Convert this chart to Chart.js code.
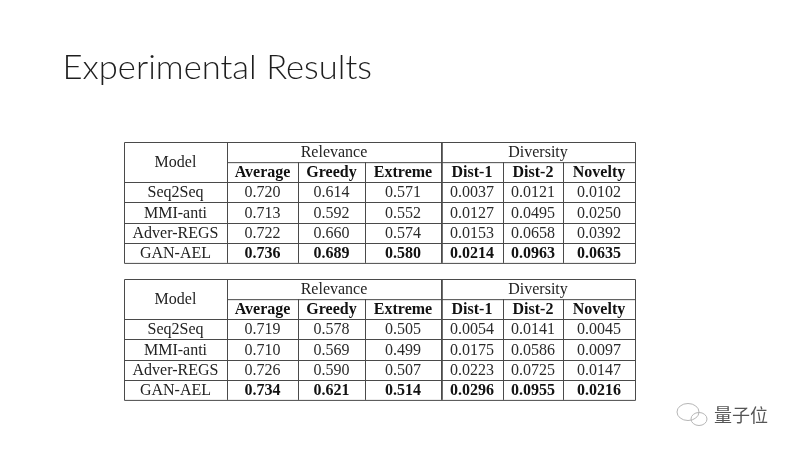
<!DOCTYPE html>
<html>
<head>
<meta charset="utf-8">
<script src="https://cdn.jsdelivr.net/npm/chart.js@4.4.1/dist/chart.umd.min.js"></script>
<style>
  html, body { margin: 0; padding: 0; background: #fff; }
  #wrap { width: 800px; height: 450px; }
</style>
</head>
<body>
<div id="wrap"><canvas id="slide" width="800" height="450"></canvas></div>
<script>
// --- datos de la tabla ---
const title = 'Experimental Results';
const groups = ['Relevance', 'Diversity'];
const metrics = ['Average', 'Greedy', 'Extreme', 'Dist-1', 'Dist-2', 'Novelty'];
const decimals = [3, 3, 3, 4, 4, 4];
const models = ['Seq2Seq', 'MMI-anti', 'Adver-REGS', 'GAN-AEL'];

const table1 = [
  [0.720, 0.614, 0.571, 0.0037, 0.0121, 0.0102],
  [0.713, 0.592, 0.552, 0.0127, 0.0495, 0.0250],
  [0.722, 0.660, 0.574, 0.0153, 0.0658, 0.0392],
  [0.736, 0.689, 0.580, 0.0214, 0.0963, 0.0635]
];
const table2 = [
  [0.719, 0.578, 0.505, 0.0054, 0.0141, 0.0045],
  [0.710, 0.569, 0.499, 0.0175, 0.0586, 0.0097],
  [0.726, 0.590, 0.507, 0.0223, 0.0725, 0.0147],
  [0.734, 0.621, 0.514, 0.0296, 0.0955, 0.0216]
];
const watermark = '量子位';

// --- maquetación (unidades de la escala) ---
const colEdges = [124, 227, 298, 365, 441, 503, 563, 635];
const tableTops = [142, 279];
const rowH = 20.15;
const groupSpan = [[1, 4], [4, 7]]; // columnas que cubre cada grupo

const SERIF = '"Liberation Serif", "Times New Roman", serif';
const FONT_PX = 16;
const STRETCH_Y = 1.07; // el texto de la imagen está algo estirado en vertical

// texto centrado con estiramiento vertical
function cellText(ctx, str, cx, cy, bold, color) {
  ctx.save();
  ctx.translate(cx, cy);
  ctx.scale(1, STRETCH_Y);
  ctx.font = `${bold ? 'bold ' : ''}${FONT_PX}px ${SERIF}`;
  ctx.fillStyle = color;
  ctx.textAlign = 'center';
  ctx.textBaseline = 'middle';
  ctx.fillText(str, 0, 0);
  ctx.restore();
}

const tablePlugin = {
  id: 'tablePlugin',
  afterDraw(chart) {
    const { ctx, scales: { x, y } } = chart;
    const px = v => x.getPixelForValue(v);
    const py = v => y.getPixelForValue(v);

    ctx.save();
    // título, ajustado al ancho de la imagen
    ctx.font = '300 33px Lato, "Noto Sans", sans-serif';
    const tw = ctx.measureText(title).width;
    ctx.save();
    ctx.translate(px(62.5), py(78.5));
    ctx.scale((px(372) - px(62.5)) / tw, 1);
    ctx.fillStyle = '#1e1e1e';
    ctx.textAlign = 'left';
    ctx.textBaseline = 'alphabetic';
    ctx.fillText(title, 0, 0);
    ctx.restore();

    [table1, table2].forEach((rows, t) => {
      const top = tableTops[t];
      const rowY = i => top + i * rowH;
      const bottom = rowY(6);
      const best = metrics.map((_, c) => Math.max(...rows.map(r => r[c])));

      // líneas
      ctx.strokeStyle = '#4a4a4a';
      ctx.lineWidth = 1;
      ctx.beginPath();
      ctx.rect(px(colEdges[0]) + 0.5, py(top) + 0.5, px(colEdges[7]) - px(colEdges[0]), py(bottom) - py(top));
      ctx.moveTo(px(colEdges[1]), py(rowY(1)) + 0.5);
      ctx.lineTo(px(colEdges[7]), py(rowY(1)) + 0.5);
      for (let i = 2; i < 6; i++) {
        ctx.moveTo(px(colEdges[0]), Math.round(py(rowY(i))) + 0.5);
        ctx.lineTo(px(colEdges[7]), Math.round(py(rowY(i))) + 0.5);
      }
      colEdges.slice(1, 7).forEach((cx, k) => {
        const startRow = (k === 0 || k === 3) ? 0 : 1;
        ctx.moveTo(px(cx) + 0.5, py(rowY(startRow)));
        ctx.lineTo(px(cx) + 0.5, py(bottom));
      });
      ctx.stroke();
      // doble línea entre grupos
      ctx.beginPath();
      ctx.moveTo(px(colEdges[4]) + 1.5, py(top));
      ctx.lineTo(px(colEdges[4]) + 1.5, py(bottom));
      ctx.lineWidth = 0.8;
      ctx.stroke();

      const mid = (a, b) => px((colEdges[a] + colEdges[b]) / 2);
      const rowMid = i => py(rowY(i) + rowH / 2 + 0.5);

      // cabecera
      cellText(ctx, 'Model', mid(0, 1), py(top + rowH + 0.5), false, '#222');
      groups.forEach((g, k) => cellText(ctx, g, mid(groupSpan[k][0], groupSpan[k][1]), rowMid(0), false, '#222'));
      metrics.forEach((m, c) => cellText(ctx, m, mid(c + 1, c + 2), rowMid(1), true, '#111'));

      // filas
      rows.forEach((r, i) => {
        cellText(ctx, models[i], mid(0, 1), rowMid(i + 2), false, '#222');
        r.forEach((v, c) => {
          const isBest = v === best[c];
          cellText(ctx, v.toFixed(decimals[c]), mid(c + 1, c + 2), rowMid(i + 2), isBest, isBest ? '#111' : '#2a2a2a');
        });
      });
    });

    // marca de agua
    ctx.strokeStyle = '#b5b5b5';
    ctx.lineWidth = 1;
    ctx.beginPath();
    ctx.ellipse(px(688), py(412), 11, 8.5, 0, 0, Math.PI * 2);
    ctx.stroke();
    ctx.beginPath();
    ctx.ellipse(px(699), py(419), 8, 6.5, 0, 0, Math.PI * 2);
    ctx.stroke();
    ctx.fillStyle = '#555';
    ctx.font = '18px "Noto Sans CJK SC", sans-serif';
    ctx.textAlign = 'left';
    ctx.textBaseline = 'middle';
    ctx.fillText(watermark, px(714), py(415));
    ctx.restore();
  }
};

new Chart(document.getElementById('slide'), {
  type: 'scatter',
  data: { datasets: [] },
  options: {
    responsive: false,
    animation: false,
    devicePixelRatio: 1,
    layout: { padding: 0 },
    plugins: { legend: { display: false }, tooltip: { enabled: false } },
    scales: {
      x: { type: 'linear', min: 0, max: 800, display: false },
      y: { type: 'linear', min: 0, max: 450, reverse: true, display: false }
    }
  },
  plugins: [tablePlugin]
});
</script>
</body>
</html>
